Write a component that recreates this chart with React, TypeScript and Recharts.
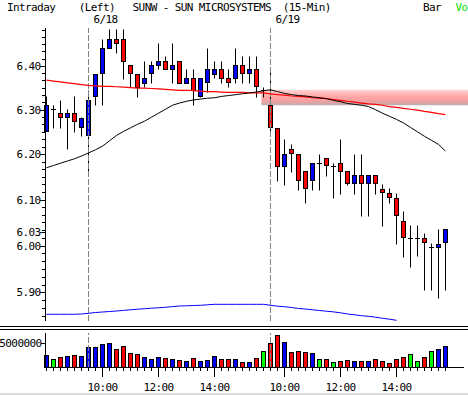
import {
  ComposedChart,
  Bar,
  Line,
  XAxis,
  YAxis,
  ReferenceLine,
  ReferenceArea,
} from 'recharts';

const W = 468;
const H = 395;
const FONT = "'DejaVu Sans Mono', 'Liberation Mono', monospace";
const UP = '#0000ff';
const DOWN = '#ff0000';
const FLAT = '#00ff00';

// 15-min bars: tail of 6/17, then the 6/18 and 6/19 sessions
const prevTimes = ['14:30', '14:45', '15:00', '15:15', '15:30', '15:45'];
const sessionTimes = [
  '9:30', '9:45', '10:00', '10:15', '10:30', '10:45', '11:00', '11:15', '11:30',
  '11:45', '12:00', '12:15', '12:30', '12:45', '13:00', '13:15', '13:30', '13:45',
  '14:00', '14:15', '14:30', '14:45', '15:00', '15:15', '15:30', '15:45',
];
const sessionDates = ['6/18', '6/19'];
const hourLabels = ['10:00', '12:00', '14:00'];
const priceLabels = [6.4, 6.3, 6.2, 6.1, 6.0, 5.9];

const opens = [
  6.253, 6.301, 6.292, 6.283, 6.292, 6.26, 6.242, 6.331, 6.383, 6.441,
  6.461, 6.461, 6.402, 6.381, 6.361, 6.383, 6.402, 6.411, 6.393, 6.411,
  6.361, 6.371, 6.331, 6.362, 6.381, 6.392, 6.371, 6.373, 6.402, 6.383,
  6.392, 6.345, 6.31, 6.259, 6.175, 6.212, 6.2, 6.162, 6.144, 6.181,
  6.192, 6.174, 6.181, 6.162, 6.136, 6.154, 6.136, 6.154, 6.123, 6.114,
  6.103, 6.054, 6.016, 6.016, 6.016, 5.996, 5.997, 6.007,
];
const highs = [
  6.331, 6.31, 6.322, 6.301, 6.331, 6.283, 6.345, 6.381, 6.461, 6.486,
  6.486, 6.486, 6.402, 6.381, 6.411, 6.411, 6.453, 6.422, 6.453, 6.411,
  6.392, 6.392, 6.371, 6.44, 6.411, 6.411, 6.392, 6.44, 6.422, 6.422,
  6.422, 6.351, 6.392, 6.259, 6.233, 6.223, 6.2, 6.162, 6.181, 6.2,
  6.192, 6.181, 6.233, 6.162, 6.2, 6.2, 6.154, 6.154, 6.134, 6.125,
  6.114, 6.074, 6.045, 6.045, 6.027, 6.006, 6.036, 6.035,
];
const lows = [
  6.252, 6.258, 6.258, 6.211, 6.25, 6.24, 6.161, 6.31, 6.31, 6.441,
  6.43, 6.37, 6.351, 6.329, 6.351, 6.36, 6.392, 6.392, 6.36, 6.36,
  6.36, 6.31, 6.329, 6.341, 6.371, 6.36, 6.351, 6.36, 6.36, 6.36,
  6.329, 6.329, 6.249, 6.141, 6.132, 6.161, 6.122, 6.093, 6.122, 6.122,
  6.152, 6.103, 6.113, 6.132, 6.113, 6.065, 6.065, 6.113, 6.042, 6.093,
  6.004, 5.975, 5.954, 5.977, 5.906, 5.906, 5.888, 5.906,
];
const closes = [
  6.31, 6.301, 6.283, 6.292, 6.274, 6.281, 6.322, 6.381, 6.44, 6.461,
  6.453, 6.411, 6.383, 6.352, 6.371, 6.402, 6.411, 6.393, 6.402, 6.361,
  6.371, 6.345, 6.371, 6.392, 6.392, 6.373, 6.362, 6.402, 6.383, 6.392,
  6.354, 6.345, 6.26, 6.175, 6.2, 6.203, 6.144, 6.125, 6.181, 6.181,
  6.177, 6.174, 6.163, 6.136, 6.154, 6.136, 6.154, 6.136, 6.116, 6.105,
  6.066, 6.018, 6.016, 6.016, 6.007, 5.996, 6.004, 6.035,
];
const volumes = [
  2560000, 1730000, 2080000, 2350000, 2560000, 2350000, 4230000, 4230000, 4850000, 5060000,
  3810000, 4440000, 2980000, 2770000, 2150000, 1730000, 2150000, 1940000, 1730000, 1520000,
  1310000, 1940000, 1310000, 1520000, 2350000, 1730000, 1730000, 1730000, 1100000, 1100000,
  1940000, 3400000, 5000000, 6730000, 5200000, 3130000, 3330000, 3130000, 2980000, 1670000,
  1670000, 1040000, 1250000, 1460000, 1250000, 1250000, 1250000, 1670000, 1250000, 830000,
  1670000, 2080000, 2710000, 1250000, 2080000, 3330000, 3750000, 4380000,
];
// short moving average (black)
const maFast = [
  6.17, 6.175, 6.18, 6.185, 6.19, 6.196, 6.203, 6.21, 6.218, 6.23,
  6.242, 6.251, 6.259, 6.267, 6.274, 6.283, 6.292, 6.301, 6.31, 6.315,
  6.319, 6.322, 6.324, 6.326, 6.327, 6.33, 6.332, 6.334, 6.336, 6.338,
  6.34, 6.343, 6.345, 6.341, 6.337, 6.334, 6.332, 6.331, 6.329, 6.327,
  6.325, 6.321, 6.318, 6.314, 6.312, 6.31, 6.307, 6.3, 6.292, 6.285,
  6.278, 6.27, 6.26, 6.25, 6.24, 6.231, 6.222, 6.207,
];
// long moving average (red)
const maSlow = [
  6.367, 6.365, 6.363, 6.361, 6.359, 6.357, 6.355, 6.354, 6.353, 6.353,
  6.352, 6.351, 6.35, 6.349, 6.349, 6.348, 6.347, 6.346, 6.345, 6.344,
  6.344, 6.343, 6.342, 6.341, 6.341, 6.34, 6.339, 6.339, 6.339, 6.338,
  6.338, 6.338, 6.336, 6.334, 6.333, 6.331, 6.33, 6.329, 6.327, 6.326,
  6.325, 6.323, 6.321, 6.319, 6.317, 6.315, 6.313, 6.312, 6.31, 6.307,
  6.305, 6.303, 6.301, 6.299, 6.296, 6.294, 6.291, 6.289,
];
// lower indicator (blue), own hidden 0-100 scale
const indicator = [
  2.29, 2.29, 2.29, 2.29, 2.29, 2.39, 2.63, 2.9, 3.07, 3.24,
  3.41, 3.62, 3.82, 4.03, 4.2, 4.37, 4.51, 4.68, 4.91, 5.12,
  5.19, 5.29, 5.36, 5.53, 5.7, 5.7, 5.7, 5.7, 5.7, 5.7,
  5.7, 5.7, 5.36, 5.05, 4.88, 4.61, 4.27, 4.1, 3.82, 3.58,
  3.34, 3.11, 2.8, 2.39, 2.12, 1.81, 1.6, 1.3, 0.92, 0.61,
  0.24,
];

// highlighted zone
const zoneLow = 6.31;
const zoneHigh = 6.345;
const zoneStart = 31;

const times = [...prevTimes, ...sessionTimes, ...sessionTimes];
const dates = [
  ...prevTimes.map(() => '6/17'),
  ...sessionTimes.map(() => sessionDates[0]),
  ...sessionTimes.map(() => sessionDates[1]),
];
const dayStarts = dates
  .map((d, i) => (i > 0 && d !== dates[i - 1] ? i : -1))
  .filter((i) => i >= 0);

const data = times.map((t, i) => ({
  i,
  time: t,
  date: dates[i],
  open: opens[i],
  high: highs[i],
  low: lows[i],
  close: closes[i],
  range: [lows[i], highs[i]],
  volume: volumes[i],
  maFast: maFast[i],
  maSlow: maSlow[i],
  ind: indicator[i] ?? null,
}));

const lastLabel = Math.floor(closes[closes.length - 1] * 100) / 100;

// minor ticks every 1/60, majors every 0.10
const priceTicks: number[] = [];
for (let k = 351; k <= 389; k++) priceTicks.push(k / 60);
priceTicks.push(lastLabel);

const xDomain = [-0.214, 59.64];
const barIdx = data.map((d) => d.i);

const dirColor = (o: number, c: number) => (c > o ? UP : c < o ? DOWN : FLAT);
const half = (v: number) => Math.round(v) + 0.5;

const textStyle = { fontFamily: FONT, fontSize: 11, letterSpacing: '-0.6px' };

function Candle(props: any) {
  const { x, y, width, height, payload } = props;
  if (x == null || y == null || !payload) return null;
  const top = Math.min(y, y + height);
  const h = Math.abs(height);
  const { open, close, high, low } = payload;
  const cx = Math.floor(x + width / 2) + 0.5;
  const k = h / (Math.log(high) - Math.log(low));
  const py = (p: number) => top + (Math.log(high) - Math.log(p)) * k;
  const wickTop = half(top);
  const wickBot = half(top + h);
  if (open === close) {
    const yy = half(py(open));
    return (
      <g>
        <line x1={cx} x2={cx} y1={wickTop} y2={wickBot} stroke="#000" />
        <line x1={cx - 2.5} x2={cx + 2.5} y1={yy} y2={yy} stroke="#000" />
      </g>
    );
  }
  const bTop = half(py(Math.max(open, close)));
  const bBot = half(py(Math.min(open, close)));
  return (
    <g>
      <line x1={cx} x2={cx} y1={wickTop} y2={wickBot} stroke="#000" />
      <rect
        x={cx - 2}
        y={bTop}
        width={4}
        height={Math.max(bBot - bTop, 1)}
        fill={dirColor(open, close)}
        stroke="#000"
      />
    </g>
  );
}

function VolBar(props: any) {
  const { x, y, width, height, payload } = props;
  if (x == null || y == null || !payload) return null;
  const cx = Math.floor(x + width / 2) + 0.5;
  const top = half(Math.min(y, y + height));
  const bottom = half(Math.max(y, y + height));
  return (
    <rect
      x={cx - 2}
      y={top}
      width={4}
      height={bottom - top}
      fill={dirColor(payload.open, payload.close)}
      stroke="#000"
    />
  );
}

function PriceTick(props: any) {
  const { y, payload } = props;
  const v = payload.value;
  const major =
    priceLabels.some((p) => Math.abs(p - v) < 1e-6) || Math.abs(v - lastLabel) < 1e-6;
  const yy = half(y);
  return (
    <g>
      <line x1={major ? 40 : 42} x2={45} y1={yy} y2={yy} stroke="#000" />
      {major && (
        <text x={40.5} y={Math.round(y) + 4} textAnchor="end" fill="#000" style={textStyle}>
          {v.toFixed(2)}
        </text>
      )}
    </g>
  );
}

function VolTick(props: any) {
  const { y, payload } = props;
  const yy = half(y);
  return (
    <g>
      <line x1={41} x2={45} y1={yy} y2={yy} stroke="#000" />
      <text x={41.5} y={Math.round(y) + 4} textAnchor="end" fill="#000" style={textStyle}>
        {String(payload.value)}
      </text>
    </g>
  );
}

function TimeTick(props: any) {
  const { x, payload } = props;
  const label = times[payload.value];
  const isHour = hourLabels.includes(label);
  const xx = Math.floor(x) + 0.5;
  return (
    <g>
      <line x1={xx} x2={xx} y1={367} y2={isHour ? 377 : 371} stroke="#000" />
      {isHour && (
        <text x={xx} y={391} textAnchor="middle" fill="#000" style={textStyle}>
          {label}
        </text>
      )}
    </g>
  );
}

function DayLabel(props: any) {
  const { viewBox, text } = props;
  if (!viewBox) return null;
  return (
    <text x={viewBox.x + 5} y={23} fill="#000" style={textStyle}>
      {text}
    </text>
  );
}

export default function App() {
  return (
    <div style={{ position: 'absolute', left: 0, top: 0, width: W, height: H, background: '#fff' }}>
      {/* price panel */}
      <div style={{ position: 'absolute', left: 0, top: 0 }}>
        <ComposedChart
          width={W}
          height={H}
          data={data}
          margin={{ top: 28, right: 4, bottom: 74, left: 0 }}
        >
          <defs>
            <linearGradient id="zoneGrad" x1="0" y1="0" x2="0" y2="1">
              <stop offset="0" stopColor="#ffd4d4" />
              <stop offset="0.45" stopColor="#ffa6a6" />
              <stop offset="0.75" stopColor="#f0a0a0" />
              <stop offset="1" stopColor="#b8b0b0" />
            </linearGradient>
          </defs>
          <XAxis type="number" dataKey="i" domain={xDomain} hide />
          <YAxis
            scale="log"
            domain={[5.8398, 6.4874]}
            allowDataOverflow
            ticks={priceTicks}
            interval={0}
            width={45}
            axisLine={false}
            tickLine={false}
            tick={<PriceTick />}
          />
          <YAxis yAxisId="ind" domain={[0, 100]} hide />
          <ReferenceArea
            x1={zoneStart - 0.3}
            x2={61}
            y1={zoneLow}
            y2={zoneHigh}
            fill="url(#zoneGrad)"
            fillOpacity={1}
            stroke="none"
            ifOverflow="visible"
          />
          {dayStarts.map((d) => (
            <ReferenceLine
              key={d}
              x={d}
              stroke="#808080"
              strokeDasharray="6 2"
              label={<DayLabel text={dates[d]} />}
            />
          ))}
          <Line
            dataKey="ind"
            yAxisId="ind"
            type="linear"
            stroke="#0000ff"
            strokeWidth={1}
            dot={false}
            isAnimationActive={false}
          />
          <Bar dataKey="range" barSize={5} shape={<Candle />} isAnimationActive={false} />
          <Line
            dataKey="maSlow"
            type="linear"
            stroke="#ff0000"
            strokeWidth={1.2}
            dot={false}
            isAnimationActive={false}
          />
          <Line
            dataKey="maFast"
            type="linear"
            stroke="#000000"
            strokeWidth={1}
            dot={false}
            isAnimationActive={false}
          />
        </ComposedChart>
      </div>

      {/* volume panel */}
      <div style={{ position: 'absolute', left: 0, top: 0 }}>
        <ComposedChart
          width={W}
          height={H}
          data={data}
          margin={{ top: 333, right: 4, bottom: 0, left: 0 }}
        >
          <XAxis
            type="number"
            dataKey="i"
            domain={xDomain}
            ticks={barIdx}
            interval={0}
            height={28}
            axisLine={false}
            tickLine={false}
            tick={<TimeTick />}
          />
          <YAxis
            domain={[0, 7170000]}
            ticks={[5000000]}
            width={45}
            axisLine={false}
            tickLine={false}
            tick={<VolTick />}
          />
          {dayStarts.map((d) => (
            <ReferenceLine key={d} x={d} stroke="#808080" strokeDasharray="6 2" />
          ))}
          <Bar dataKey="volume" barSize={5} shape={<VolBar />} isAnimationActive={false} />
        </ComposedChart>
      </div>

      {/* frame, axis lines and header */}
      <svg
        width={W}
        height={H}
        style={{ position: 'absolute', left: 0, top: 0, pointerEvents: 'none' }}
      >
        <line x1={45.5} x2={45.5} y1={28} y2={321} stroke="#000" />
        <line x1={0} x2={W} y1={326.5} y2={326.5} stroke="#000" />
        <line x1={0} x2={W} y1={329.5} y2={329.5} stroke="#000" />
        <line x1={45.5} x2={45.5} y1={333} y2={367.5} stroke="#000" />
        <line x1={45} x2={464} y1={367.5} y2={367.5} stroke="#000" />
        <rect x={0} y={393} width={W} height={2} fill="#dcdcdc" />
        <text x={7} y={11} fill="#000" style={textStyle}>Intraday</text>
        <text x={78.8} y={11} fill="#000" style={textStyle}>(Left)</text>
        <text x={132.6} y={11} fill="#000" style={textStyle}>SUNW - SUN MICROSYSTEMS</text>
        <text x={282.7} y={11} fill="#000" style={textStyle}>(15-Min)</text>
        <text x={423} y={11} fill="#000" style={textStyle}>Bar</text>
        <text x={455.5} y={11} fill="#00e000" style={textStyle}>Vo</text>
      </svg>
    </div>
  );
}
